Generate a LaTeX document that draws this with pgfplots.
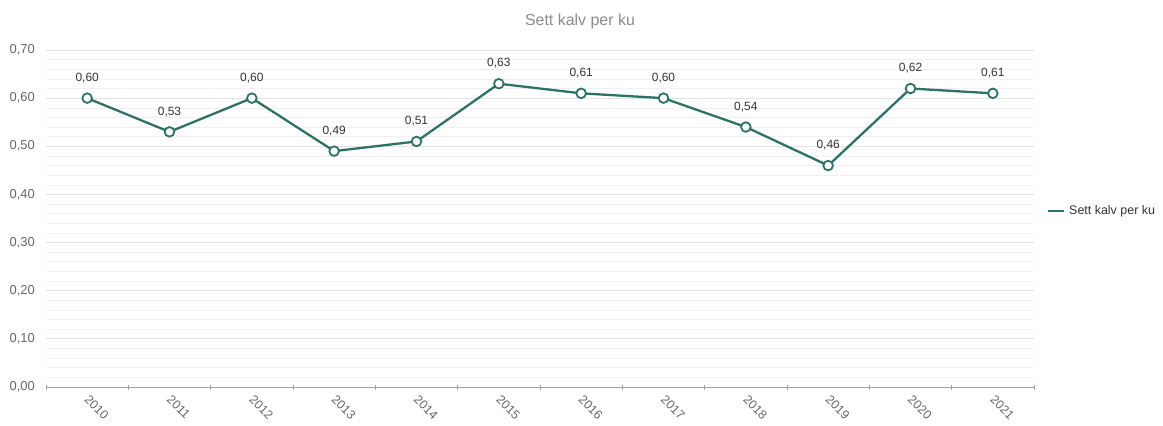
\documentclass[border=0pt]{standalone}
\usepackage{pgfplots}
\pgfplotsset{compat=1.18}
\usepackage{fontspec}
\setmainfont{Liberation Sans}
\definecolor{teal1}{HTML}{2E7267}
\definecolor{majgrid}{HTML}{E3E3E3}
\definecolor{mingrid}{HTML}{F0F0F0}
\definecolor{ticklab}{HTML}{666666}
\definecolor{axisline}{HTML}{A0A0A0}
\begin{document}
\begin{tikzpicture}[x=1bp,y=1bp]
\useasboundingbox (-46,-38) rectangle (1117,387);
\begin{axis}[
  at={(0,0)}, anchor=south west,
  scale only axis, width=988bp, height=337bp,
  xmin=-0.5, xmax=11.5, ymin=0, ymax=0.7,
  axis y line=none,
  axis x line*=bottom,
  x axis line style={draw=axisline, line width=0.8bp, -},
  xtick={0,1,...,11},
  xticklabels={2010,2011,2012,2013,2014,2015,2016,2017,2018,2019,2020,2021},
  minor xtick={-0.5,0.5,...,11.5},
  major tick length=0pt,
  minor tick length=5bp,
  x tick label style={rotate=-45, anchor=north west, font=\fontsize{12.5}{14}\selectfont, text=ticklab, xshift=5bp, yshift=-1bp, inner sep=2bp},
  minor tick style={draw=axisline, line width=0.8bp, yshift=-2.5bp},
  ytick=\empty,
  clip=false,
  /pgf/number format/assume math mode=true,
]
% gridlines
\foreach \v in {0.02,0.04,...,0.69} {
  \edef\temp{\noexpand\draw[mingrid, line width=0.8bp] (axis cs:-0.5,\v) -- (axis cs:11.5,\v);}
  \temp
}
\foreach \v in {0.1,0.2,...,0.71} {
  \edef\temp{\noexpand\draw[majgrid, line width=1bp] (axis cs:-0.5,\v) -- (axis cs:11.5,\v);}
  \temp
}
\foreach \v/\l in {0/{0,00},0.1/{0,10},0.2/{0,20},0.3/{0,30},0.4/{0,40},0.5/{0,50},0.6/{0,60},0.7/{0,70}} {
  \edef\temp{\noexpand\node[anchor=east, font=\noexpand\fontsize{13}{15}\noexpand\selectfont, text=ticklab, inner sep=0pt] at ([xshift=-11bp]axis cs:-0.5,\v) {\l};}
  \temp
}
\addplot[teal1, line width=2.3bp, mark=*, mark size=4.8bp,
  mark options={fill=white, draw=teal1, line width=1.8bp},
  nodes near coords,
  nodes near coords style={font=\fontsize{12}{14}\selectfont, text=black!80, anchor=south, yshift=11bp,
    /pgf/number format/.cd, fixed, fixed zerofill, precision=2, use comma, assume math mode=true},
  forget plot]
coordinates {(0,0.60) (1,0.53) (2,0.60) (3,0.49) (4,0.51) (5,0.63) (6,0.61) (7,0.60) (8,0.54) (9,0.46) (10,0.62) (11,0.61)};
\end{axis}
\node[font=\fontsize{16}{18}\selectfont, text=black!45] at (534,366) {Sett kalv per ku};
\draw[teal1, line width=2.8bp] (1002,176) -- (1018,176);
\node[anchor=west, font=\fontsize{12.5}{14}\selectfont, text=black!80, inner sep=0pt] at (1023,176) {Sett kalv per ku};
\end{tikzpicture}
\end{document}
